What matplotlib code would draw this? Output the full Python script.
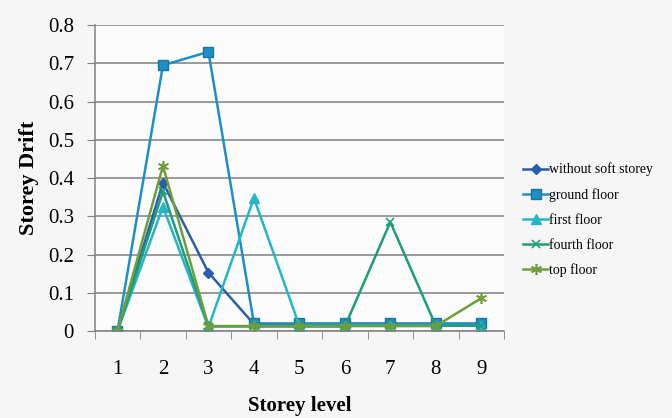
import matplotlib.pyplot as plt
import numpy as np

# storey levels and drift per case
levels = [1, 2, 3, 4, 5, 6, 7, 8, 9]
without_soft = [0.0, 0.388, 0.153, 0.018, 0.018, 0.018, 0.018, 0.018, 0.018]
ground_floor = [0.0, 0.695, 0.730, 0.020, 0.020, 0.020, 0.020, 0.020, 0.020]
first_floor = [0.0, 0.325, 0.010, 0.348, 0.014, 0.014, 0.014, 0.014, 0.014]
fourth_floor = [0.0, 0.365, 0.012, 0.012, 0.012, 0.012, 0.285, 0.014, 0.014]
top_floor = [0.0, 0.432, 0.013, 0.013, 0.013, 0.013, 0.013, 0.013, 0.086]

plt.rcParams["font.family"] = ["Liberation Serif", "DejaVu Serif"]

fig = plt.figure(figsize=(6.72, 4.18), dpi=100, facecolor="#f6f6f6")
ax = fig.add_axes([0.141, 0.208, 0.609, 0.732])
ax.set_facecolor("#fcfcfc")

ax.plot(levels, without_soft, color="#2b5ea9", lw=1.8, marker="D", ms=5, label="without soft storey")
ax.plot(levels, ground_floor, color="#1d8ec6", lw=1.8, marker="s", ms=7.5,
        mec="#17759f", label="ground floor")
ax.plot(levels, first_floor, color="#25b6c6", lw=1.8, marker="^", ms=7, label="first floor")
ax.plot(levels, fourth_floor, color="#1f9c7c", lw=1.8, marker="x", ms=6, mew=1.2, label="fourth floor")
ax.plot(levels, top_floor, color="#6c9e3c", lw=1.8, marker=(6, 2, 0), ms=8, mew=1.2, label="top floor")

ax.set_xlim(0.5, 9.5)
ax.set_ylim(0, 0.8)
ax.set_yticks(np.arange(0, 0.81, 0.1))
ax.set_yticklabels(["0", "0.1", "0.2", "0.3", "0.4", "0.5", "0.6", "0.7", "0.8"])
ax.set_xticks(levels)
ax.set_xticks(np.arange(0.5, 9.6, 1), minor=True)
ax.tick_params(axis="x", which="major", length=0, labelsize=15, pad=21)
ax.tick_params(axis="x", which="minor", length=6, color="#808080", direction="out")
ax.tick_params(axis="y", length=6, color="#808080", labelsize=15, pad=9)

ax.yaxis.grid(True, color="#808080", lw=1.1)
ax.set_axisbelow(True)
for s in ["top", "right"]:
    ax.spines[s].set_visible(False)
for s in ["left", "bottom"]:
    ax.spines[s].set_color("#808080")
    ax.spines[s].set_linewidth(1.1)

ax.set_xlabel("Storey level", fontsize=15, fontweight="bold", labelpad=12)
ax.set_ylabel("Storey Drift", fontsize=16, fontweight="bold", labelpad=6)

ax.legend(loc="center left", bbox_to_anchor=(1.03, 0.363), frameon=False, fontsize=10,
          handlelength=1.8, handletextpad=0.05, labelspacing=0.85, borderpad=0)

fig.savefig("out.png", dpi=100, facecolor=fig.get_facecolor())
